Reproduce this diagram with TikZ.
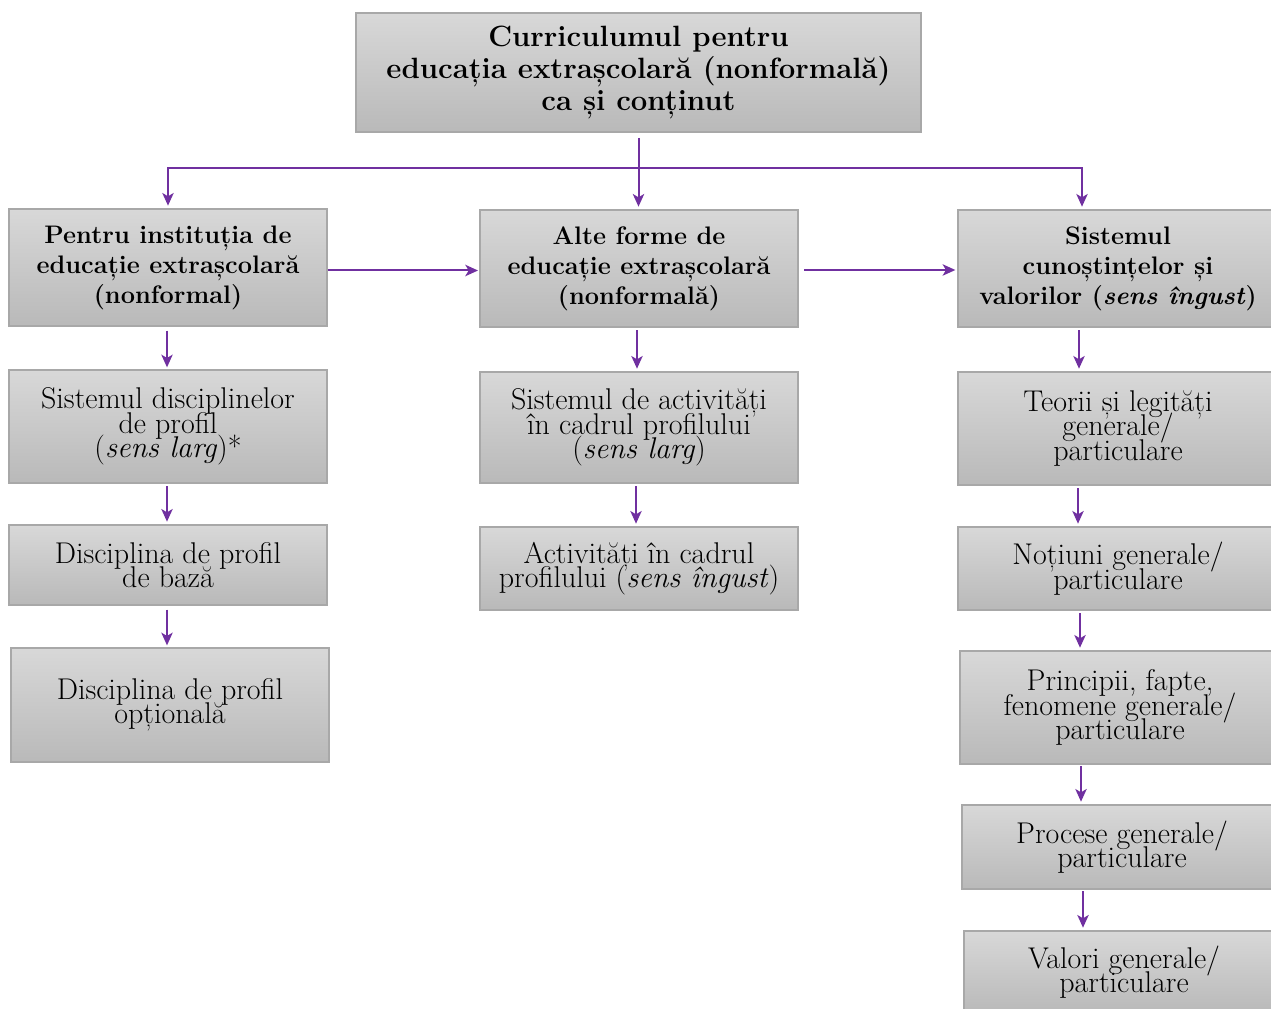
\documentclass[tikz,border=0pt]{standalone}
\usetikzlibrary{arrows.meta,calc}
\definecolor{pur}{HTML}{7030A0}
\definecolor{boxtop}{HTML}{D8D8D8}
\definecolor{boxbot}{HTML}{B9B9B9}
\definecolor{boxline}{HTML}{A8A8A8}
\newcommand{\tightlines}{\setlength{\lineskiplimit}{-30pt}\setlength{\lineskip}{0pt}}
\tikzset{
  box/.style={draw=boxline, line width=1pt, top color=boxtop, bottom color=boxbot,
    inner sep=0pt, align=center, minimum width=318*0.75pt},
  titlefont/.style={font={\fontsize{22}{24}\selectfont\bfseries\tightlines}},
  headfont/.style={font={\fontsize{19}{22.5}\selectfont\bfseries\tightlines}},
  bodyfont/.style={font={\fontsize{22.5}{18.4}\selectfont\tightlines}},
  arr/.style={draw=pur, line width=1.5pt, -{Stealth[length=9.5pt,width=8.5pt,inset=2.5pt]}},
}
\begin{document}
\begin{tikzpicture}[x=0.75pt,y=-0.75pt]
\clip (0,0) rectangle (1271,1009);
\fill[white] (0,0) rectangle (1271,1009);
% top
\node[box,titlefont,minimum width=565*0.75pt,minimum height=119*0.75pt] (top) at (638.5,72.5)
  {Curriculumul pentru\\educația extrașcolară (nonformală)\\ca și conținut};
% row 1
\node[box,headfont,minimum height=117*0.75pt] (L1) at (168,267.5)
  {Pentru instituția de\\educație extrașcolară\\(nonformal)};
\node[box,headfont,minimum height=117*0.75pt] (M1) at (639,268.5)
  {Alte forme de\\educație extrașcolară\\(nonformală)};
\node[box,headfont,minimum width=320*0.75pt,minimum height=117*0.75pt] (R1) at (1118,268.5)
  {Sistemul\\cunoștințelor și\\valorilor (\textit{sens îngust})};
% row 2
\node[box,bodyfont,minimum height=113*0.75pt] (L2) at (168,426.5)
  {Sistemul disciplinelor\\de profil\\(\textit{sens larg})*};
\node[box,bodyfont,minimum height=111*0.75pt] (M2) at (639,427.5)
  {Sistemul de activități\\în cadrul profilului\\(\textit{sens larg})};
\node[box,bodyfont,minimum width=320*0.75pt,minimum height=113*0.75pt] (R2) at (1118,428.5)
  {Teorii și legități\\generale/\\particulare};
% row 3
\node[box,bodyfont,minimum height=80*0.75pt] (L3) at (168,565)
  {Disciplina de profil\\de bază};
\node[box,bodyfont,minimum height=83*0.75pt] (M3) at (639,568.5)
  {Activități în cadrul\\profilului (\textit{sens îngust})};
\node[box,bodyfont,minimum width=320*0.75pt,minimum height=83*0.75pt] (R3) at (1118,568.5)
  {Noțiuni generale/\\particulare};
% row 4
\node[box,bodyfont,minimum height=114*0.75pt] (L4) at (170,705)
  {Disciplina de profil\\opțională};
\node[box,bodyfont,minimum width=320*0.75pt,minimum height=113*0.75pt] (R4) at (1120,707.5)
  {Principii, fapte,\\fenomene generale/\\particulare};
% row 5, 6
\node[box,bodyfont,minimum width=320*0.75pt,minimum height=84*0.75pt] (R5) at (1122,847)
  {Procese generale/\\particulare};
\node[box,bodyfont,minimum width=320*0.75pt,minimum height=82*0.75pt] (R6) at (1124,972)
  {Valori generale/\\particulare};

% top connectors
\coordinate (J) at (638.5,168);
\draw[arr,shorten <=4pt,shorten >=2pt] (top.south) -- (top.south |- M1.north);
\draw[arr,shorten >=2pt] (J) -| (L1.north);
\draw[arr,shorten >=2pt] (J) -| ([xshift=-36*0.75pt]R1.north);
% horizontal
\draw[arr,shorten >=1pt] ([yshift=-3*0.75pt]L1.east) -- ([yshift=-3*0.75pt]L1.east -| M1.west);
\draw[arr,shorten <=4pt,shorten >=1.5pt] ([yshift=-1.5*0.75pt]M1.east) -- ([yshift=-1.5*0.75pt]M1.east -| R1.west);
% left column
\draw[arr,shorten <=3pt,shorten >=1.5pt] ([xshift=-1*0.75pt]L1.south) -- ([xshift=-1*0.75pt]L2.north);
\draw[arr,shorten <=2pt,shorten >=2pt] ([xshift=-1*0.75pt]L2.south) -- ([xshift=-1*0.75pt]L3.north);
\draw[arr,shorten <=3pt,shorten >=1.5pt] ([xshift=-1*0.75pt]L3.south) -- ([xshift=-1*0.75pt]L3.south |- L4.north);
% middle column
\draw[arr,shorten <=2pt,shorten >=2pt] ([xshift=-2*0.75pt]M1.south) -- ([xshift=-2*0.75pt]M2.north);
\draw[arr,shorten <=2pt,shorten >=2pt] ([xshift=-3*0.75pt]M2.south) -- ([xshift=-3*0.75pt]M3.north);
% right column
\draw[arr,shorten <=2pt,shorten >=2pt] ([xshift=-39*0.75pt]R1.south) -- ([xshift=-39*0.75pt]R2.north);
\draw[arr,shorten <=2pt,shorten >=2pt] ([xshift=-40*0.75pt]R2.south) -- ([xshift=-40*0.75pt]R3.north);
\draw[arr,shorten <=2pt,shorten >=2pt] ([xshift=-38*0.75pt]R3.south) -- ([xshift=-38*0.75pt]R3.south |- R4.north);
\draw[arr,shorten <=1pt,shorten >=2pt] ([xshift=-39*0.75pt]R4.south) -- ([xshift=-39*0.75pt]R4.south |- R5.north);
\draw[arr,shorten <=1pt,shorten >=2pt] ([xshift=-39*0.75pt]R5.south) -- ([xshift=-39*0.75pt]R5.south |- R6.north);
\end{tikzpicture}
\end{document}
